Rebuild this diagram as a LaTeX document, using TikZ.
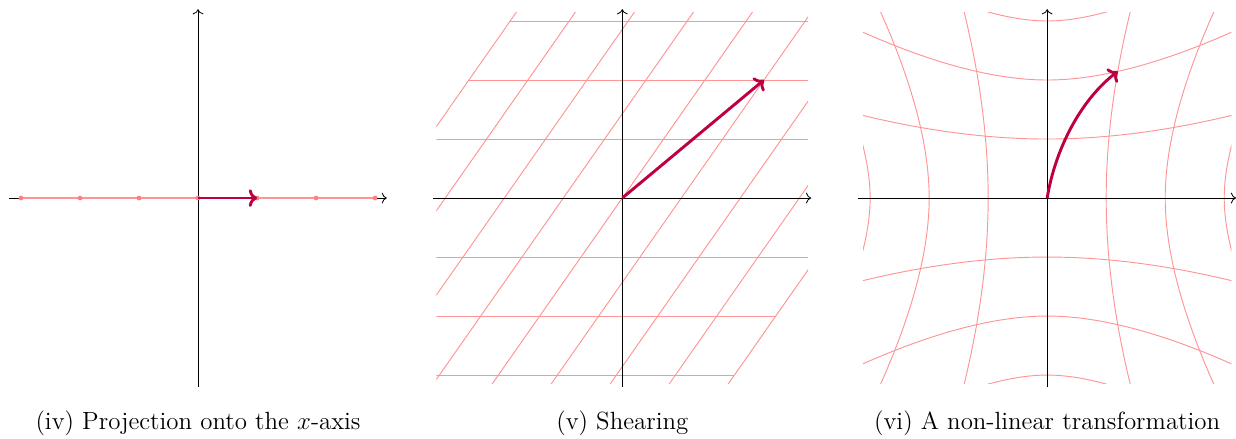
\documentclass[tikz,border=0pt]{standalone}
\usetikzlibrary{arrows.meta}
\definecolor{GridRed}{HTML}{FF9494}
\definecolor{VecPurple}{rgb}{0.75,0,0.25}
\tikzset{axisline/.style={black,->},gridline/.style={GridRed,line width=0.45pt},
 vec/.style={VecPurple,line width=1.4pt,-{To[length=4pt,width=8.5pt]}},
 subcap/.style={font=\large,anchor=base}}

\begin{document}
\begin{tikzpicture}
\useasboundingbox (-3.356,-4.07) rectangle (17.59,3.356);
% (iv) projection
\begin{scope}
 \draw[axisline] (-3.2,0)--(3.2,0);
 \draw[axisline] (0,-3.2)--(0,3.2);
 \draw[GridRed,line width=1.2pt] (-3,0)--(3,0);
 \foreach \x in {-3,...,3}\fill[GridRed!85!red] (\x,0) circle (0.04);
 \coordinate (o1) at (0,0);
 \coordinate (v1) at (1,0);
 \draw[vec] (o1)--(v1);
 \node[subcap] (cap1) at (0,-3.92) {(iv) Projection onto the $x$-axis};
\end{scope}
% (v) shear
\begin{scope}[xshift=7.19cm]
 \begin{scope}
  \clip (-3.15,-3.15) rectangle (3.15,3.15);
  \foreach \c in {-4,...,4}\draw[gridline] ({\c-2.8},-4)--({\c+2.8},4);
  \foreach \c in {-3,-2,-1,1,2,3}\draw[gridline] ({-4+0.7*\c},\c)--({4+0.7*\c},\c);
 \end{scope}
 \draw[axisline] (-3.2,0)--(3.2,0);
 \draw[axisline] (0,-3.2)--(0,3.2);
 \coordinate (o2) at (0,0);
 \coordinate (v2) at (2.4,2);
 \draw[vec] (o2)--(v2);
 \node[subcap] (cap2) at (0,-3.92) {(v) Shearing};
\end{scope}
% (vi) non-linear
\begin{scope}[xshift=14.39cm]
 \begin{scope}
  \clip (-3.12,-3.14) rectangle (3.12,3.14);
  \foreach \c in {-3,-2,-1,1,2,3}{
   \draw[gridline] plot[domain=-3:3,samples=41,smooth]
    ({\c*(1+\x*\x*(0.025+0.024*abs(\c)))},{\x*(1+\c*\c*(0.025+0.024*abs(\x)))});
   \draw[gridline] plot[domain=-3:3,samples=41,smooth]
    ({\x*(1+\c*\c*(0.025+0.024*abs(\x)))},{\c*(1+\x*\x*(0.025+0.024*abs(\c)))});
  }
 \end{scope}
 \draw[axisline] (-3.2,0)--(3.2,0);
 \draw[axisline] (0,-3.2)--(0,3.2);
 \coordinate (o3) at (0,0);
 \coordinate (v3) at (1.196,2.146);
 \draw[vec] (o3) .. controls (0.13,0.8) and (0.55,1.65) .. (v3);
 \node[subcap] (cap3) at (0,-3.92) {(vi) A non-linear transformation};
\end{scope}
\end{tikzpicture}
\end{document}
